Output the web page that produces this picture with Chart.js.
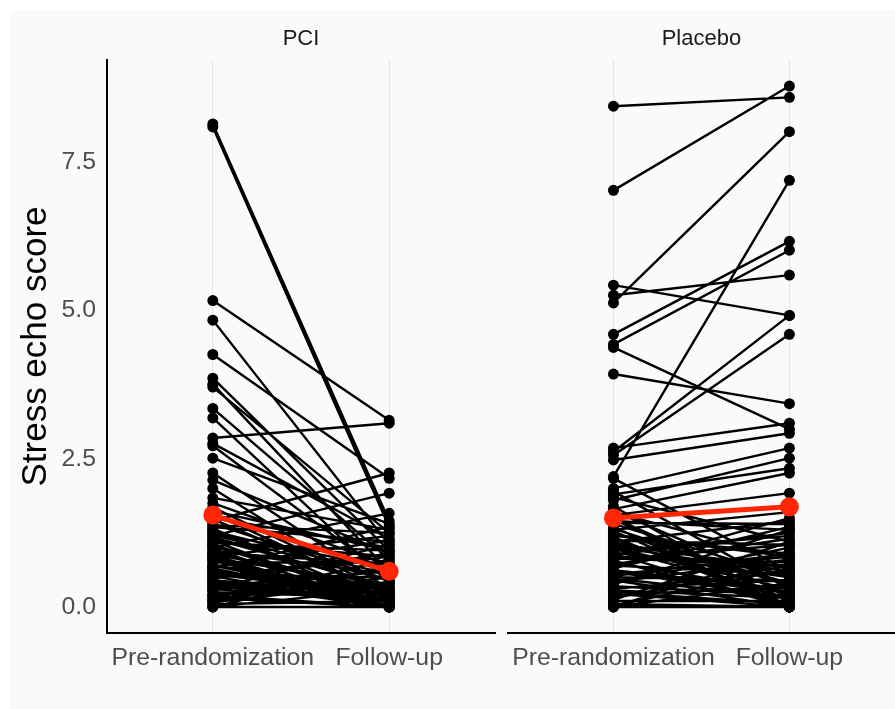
<!DOCTYPE html>
<html><head><meta charset="utf-8">
<script src="https://cdn.jsdelivr.net/npm/chart.js@4"></script>
<style>
html,body{margin:0;padding:0;background:#fff;width:895px;height:709px;overflow:hidden;}
#bg{position:absolute;left:11px;top:10px;width:884px;height:699px;background:#fafafa;}
.wrap{position:absolute;top:0;height:709px;}
</style></head><body>
<div id="bg"></div>
<div class="wrap" style="left:0;width:500px"><canvas id="c1" width="500" height="709"></canvas></div>
<div class="wrap" style="left:500px;width:395px"><canvas id="c2" width="395" height="709"></canvas></div>
<script>
const categories = ['Pre-randomization', 'Follow-up'];
const panels = ['PCI', 'Placebo'];
const yAxisTitle = 'Stress echo score';
const yTickValues = [0, 2.5, 5, 7.5];

const pciPre = [8.15, 8.10, 5.17, 4.84, 4.26, 3.86, 3.76, 3.71, 3.35, 3.19,
  2.85, 2.76, 2.72, 2.51, 2.26, 2.14, 2.00, 1.84, 1.75, 1.58,
  1.50, 1.45, 1.40, 1.35, 1.30, 1.25, 1.20, 1.15, 1.10, 1.05,
  1.00, 0.95, 0.90, 0.85, 0.80, 0.75, 0.70, 0.65, 0.60, 0.55,
  0.50, 0.45, 0.40, 0.35, 0.30, 0.25, 0.20, 0.15, 0.10, 0.05,
  0.00, 0.00, 0.00, 1.62, 1.68, 1.22, 0.98, 0.62, 0.38, 0.12,
  0.20, 0.30, 0.45, 0.55, 0.70, 0.85, 0.90, 1.05, 0.65, 0.35,
  0.08, 0.18, 0.28, 0.42, 0.48, 0.52, 0.58, 0.68, 0.78, 0.82,
  0.88, 0.92, 1.02, 1.08, 1.12, 1.18, 1.28, 1.32, 1.38, 1.48];
const pciFollow = [1.45, 1.35, 3.15, 1.05, 2.17, 0.95, 0.60, 1.25, 0.80, 0.40,
  3.10, 1.15, 0.50, 1.40, 0.30, 0.90, 0.15, 1.30, 0.70, 0.20,
  1.00, 2.26, 0.45, 1.10, 0.00, 0.65, 1.92, 0.35, 0.85, 0.10,
  1.58, 0.55, 0.25, 1.20, 0.00, 0.75, 0.30, 1.35, 0.05, 0.50,
  0.90, 0.20, 0.00, 0.60, 1.05, 0.15, 0.40, 0.00, 0.80, 0.10,
  0.00, 0.30, 0.70, 0.95, 0.25, 0.45, 0.00, 0.20, 0.05, 0.50,
  0.00, 0.10, 0.00, 0.20, 0.10, 0.00, 0.30, 0.15, 0.05, 0.10,
  0.42, 0.00, 0.62, 0.12, 0.85, 0.00, 0.28, 1.12, 0.05, 0.38,
  0.00, 0.72, 0.18, 0.95, 0.00, 0.32, 0.55, 0.08, 1.25, 0.22];

const placeboPre = [8.45, 7.03, 5.43, 5.26, 5.13, 4.60, 4.43, 4.38, 3.93, 2.68,
  2.62, 2.56, 2.48, 2.20, 2.17, 2.00, 1.95, 1.90, 1.85, 1.80,
  1.70, 1.65, 1.60, 1.55, 1.50, 1.45, 1.40, 1.35, 1.30, 1.25,
  1.20, 1.15, 1.10, 1.05, 1.00, 0.95, 0.90, 0.85, 0.80, 0.75,
  0.70, 0.65, 0.60, 0.55, 0.50, 0.45, 0.40, 0.35, 0.30, 0.25,
  0.20, 0.15, 0.10, 0.05, 0.00, 0.00, 0.00, 1.62, 1.28, 0.92,
  0.58, 0.28, 0.72, 1.08, 0.42,
  0.02, 0.12, 0.22, 0.32, 0.38, 0.48, 0.52, 0.62, 0.68, 0.78,
  0.82, 0.88, 0.98, 1.02, 1.12, 1.18, 1.22, 1.32, 1.42, 1.48];
const placeboFollow = [8.60, 8.79, 4.92, 5.60, 8.02, 6.17, 6.02, 3.00, 3.43, 3.10,
  4.92, 4.60, 2.93, 7.20, 0.60, 2.68, 0.30, 2.34, 1.10, 2.51,
  0.00, 2.26, 0.80, 1.92, 0.20, 1.30, 0.50, 0.00, 1.60, 0.40,
  0.90, 0.10, 1.45, 0.65, 0.30, 1.20, 0.00, 0.75, 1.05, 0.25,
  0.55, 1.35, 0.15, 0.85, 0.45, 0.00, 1.00, 0.20, 0.60, 0.05,
  0.35, 0.70, 0.10, 0.00, 0.40, 0.00, 0.95, 0.35, 0.00, 0.50,
  0.25, 0.15, 1.15, 0.60, 0.80,
  0.65, 1.10, 0.00, 0.45, 1.30, 0.15, 0.90, 0.30, 1.50, 0.00,
  0.70, 1.25, 0.20, 0.55, 1.05, 0.00, 0.85, 0.35, 1.40, 0.10];

const pciMean = [1.55, 0.60];
const placeboMean = [1.50, 1.69];

const FONT = "'Liberation Sans', Arial, Helvetica, sans-serif";
const RED = '#ff2605';

function makePanel(id, title, pre, fol, mean, showY, padL, padR) {
  const lineData = [];
  const pointData = [];
  pre.forEach((v, i) => {
    lineData.push({x: 1, y: v}, {x: 2, y: fol[i]}, {x: 1.5, y: null});
    pointData.push({x: 1, y: v}, {x: 2, y: fol[i]});
  });
  const meanData = mean.map((v, i) => ({x: i + 1, y: v}));
  return new Chart(document.getElementById(id), {
    type: 'line',
    data: {
      datasets: [
        {data: meanData, borderColor: RED, backgroundColor: RED, borderWidth: 5,
         pointRadius: 9.5, pointBorderWidth: 0, pointBackgroundColor: RED, order: 0},
        {data: pointData, showLine: false, pointRadius: 5.5, pointBorderWidth: 0,
         pointBackgroundColor: '#000', borderColor: '#000', order: 1},
        {data: lineData, borderColor: '#000', borderWidth: 2.4, pointRadius: 0,
         spanGaps: false, order: 2}
      ]
    },
    options: {
      responsive: false,
      animation: false,
      events: [],
      layout: {autoPadding: false, padding: {left: padL, right: padR, top: 0, bottom: 0}},
      plugins: {
        legend: {display: false},
        tooltip: {enabled: false},
        title: {display: true, text: title, fullSize: false,
          font: {family: FONT, size: 22, weight: 'normal'}, color: '#1a1a1a',
          padding: {top: 26, bottom: 7.6}}
      },
      scales: {
        x: {
          type: 'linear', min: 0.4, max: 2.6,
          afterBuildTicks: s => { s.ticks = categories.map((c, i) => ({value: i + 1})); },
          afterFit: s => { s.height = 76; },
          ticks: {callback: v => categories[v - 1] || '', autoSkip: false, maxRotation: 0,
            font: {family: FONT, size: 24.8}, color: '#4d4d4d', padding: 10},
          grid: {color: '#e4e4e4', lineWidth: 1, drawTicks: false},
          border: {display: true, color: '#000', width: 2}
        },
        y: {
          type: 'linear', min: -0.44, max: 9.23, display: showY,
          afterBuildTicks: s => { s.ticks = yTickValues.map(v => ({value: v})); },
          afterFit: s => { if (showY) { s.width = 107; } else { s.width = 0; } },
          ticks: {callback: v => Number(v).toFixed(1), font: {family: FONT, size: 24.8},
            color: '#4d4d4d', padding: 11},
          grid: {display: false, drawTicks: false},
          border: {display: true, color: '#000', width: 2},
          title: {display: true, text: yAxisTitle, color: '#000',
            font: {family: FONT, size: 35}, padding: {top: 15, bottom: 0}}
        }
      }
    }
  });
}

makePanel('c1', panels[0], pciPre, pciFollow, pciMean, true, 0, 5);
makePanel('c2', panels[1], placeboPre, placeboFollow, placeboMean, false, 7, 0);
</script>
</body></html>
